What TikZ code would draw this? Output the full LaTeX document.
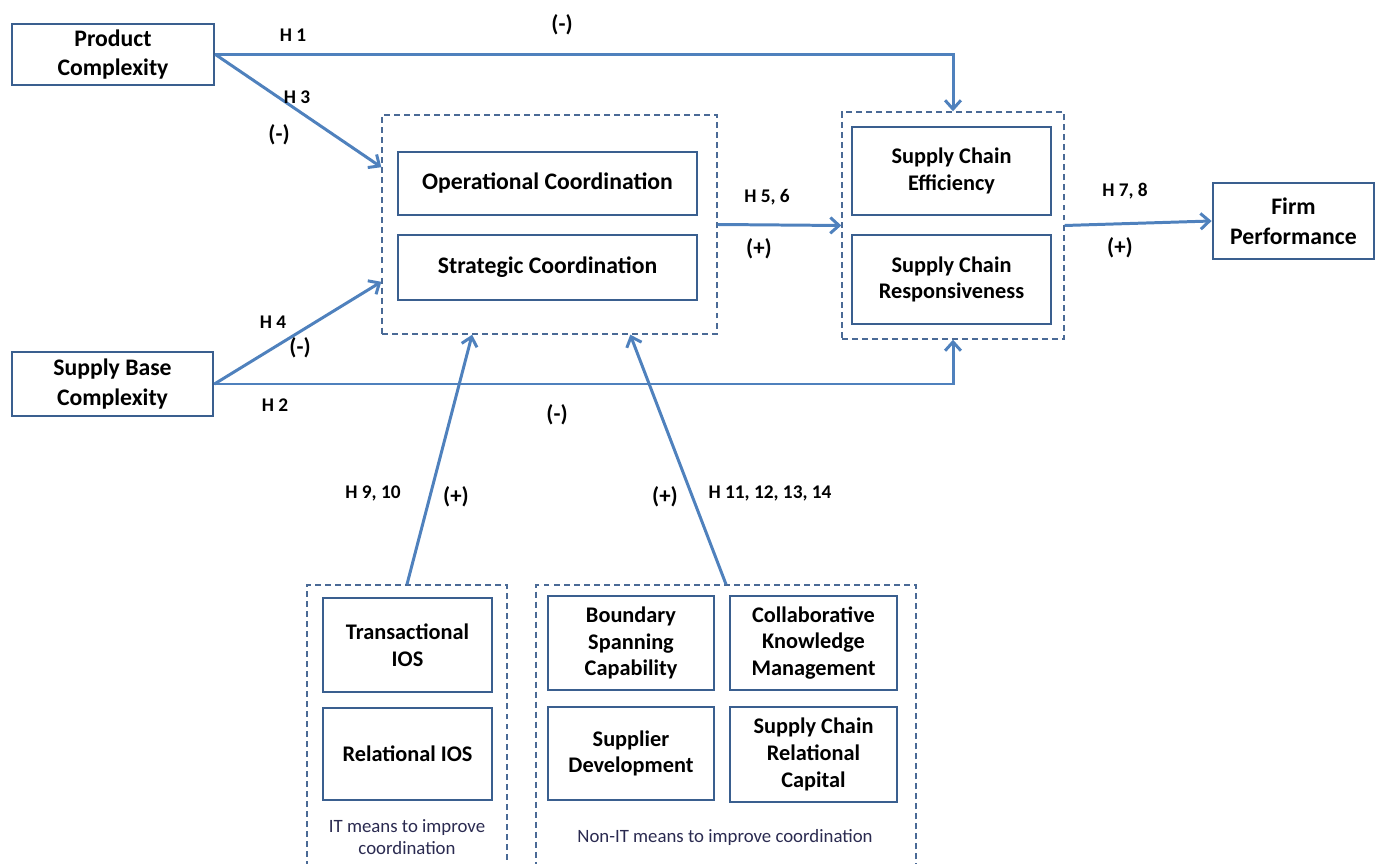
\documentclass[tikz,border=0pt]{standalone}
\usepackage{fontspec}
\setmainfont{Carlito}
\usetikzlibrary{arrows.meta,calc}
\definecolor{conncol}{HTML}{4F81BD}
\definecolor{boxcol}{HTML}{3A5F8F}
\definecolor{grpcol}{HTML}{4A6A96}
\definecolor{captcol}{HTML}{2A2A50}
\begin{document}
\begin{tikzpicture}[x=0.02cm,y=-0.02cm,
 sz/.style 2 args={minimum width=#1*0.02cm,minimum height=#2*0.02cm},
 mainbox/.style={draw=boxcol,line width=1.6pt,inner sep=0pt,align=center,font=\bfseries\fontsize{13.5}{17}\selectfont},
 smallbox/.style={mainbox,font=\bfseries\fontsize{12.7}{15.2}\selectfont},
 grpbox/.style={draw=grpcol,line width=0.8pt,dash pattern=on 3.4pt off 2.3pt,inner sep=0pt},
 conn/.style={draw=conncol,line width=1.7pt,-{Straight Barb[length=5pt,width=9pt,line width=1.7pt]}},
 hlbl/.style={inner sep=0pt,font=\bfseries\fontsize{11}{13}\selectfont},
 sgn/.style={inner sep=0pt,font=\bfseries\fontsize{13}{15}\selectfont},
 capt/.style={inner sep=0pt,font=\fontsize{10.7}{12.5}\selectfont,text=captcol,align=center}]

\useasboundingbox (0,0) rectangle (1376,864);

% group boxes
\node[grpbox,sz={335}{219}] (cgrp) at (549.5,224.5) {};
\node[grpbox,sz={222}{227}] (scgrp) at (953,225.5) {};
\node[grpbox,sz={200}{295}] (itgrp) at (407,732.5) {};
\node[grpbox,sz={380}{295}] (ngrp) at (726,732.5) {};

% main boxes
\node[mainbox,sz={202}{61}] (pc) at (113,54.5) {Product\\Complexity};
\node[mainbox,sz={201}{64}] (sbc) at (112.5,384) {Supply Base\\Complexity};
\node[mainbox,sz={299}{63}] (oc) at (547.5,183.5) {Operational Coordination};
\node[mainbox,sz={299}{65}] (sc) at (547.5,267.5) {Strategic Coordination};
\node[smallbox,sz={199}{88}] (sce) at (951.5,171) {Supply Chain\\Efficiency};
\node[smallbox,sz={199}{89}] (scr) at (951.5,279.5) {Supply Chain\\Responsiveness};
\node[mainbox,sz={161}{76}] (fp) at (1293.5,221) {Firm\\Performance};
\node[smallbox,sz={169}{94}] (tios) at (407.5,645) {Transactional\\IOS};
\node[smallbox,sz={169}{92}] (rios) at (407.5,754) {Relational IOS};
\node[smallbox,sz={166}{94}] (bsc) at (631,643) {Boundary\\Spanning\\Capability};
\node[smallbox,sz={167}{94}] (ckm) at (813.5,643) {Collaborative\\Knowledge\\Management};
\node[smallbox,sz={166}{93}] (sd) at (631,753.5) {Supplier\\Development};
\node[smallbox,sz={167}{95}] (scrc) at (813.5,754.5) {Supply Chain\\Relational\\Capital};

% captions
\node[capt] (itcap) at (407,837) {IT means to improve\\coordination};
\node[capt] (ncap) at (725,837) {Non-IT means to improve coordination};

% connectors
\draw[conn] (pc.east) -| (scgrp.north);
\draw[conn] (pc.east) -- ($(cgrp.north west)!0.24!(cgrp.south west)$);
\draw[conn] (sbc.east) -- ($(cgrp.north west)!0.76!(cgrp.south west)$);
\draw[conn] (sbc.east) -| (scgrp.south);
\draw[conn] (cgrp.east) -- (scgrp.west);
\draw[conn] (scgrp.east) -- (fp.west);
\draw[conn] (itgrp.north) -- ($(cgrp.south west)!0.27!(cgrp.south east)$);
\draw[conn] (ngrp.north) -- ($(cgrp.south west)!0.74!(cgrp.south east)$);

% labels
\node[hlbl] (h1) at (293,35) {H 1};
\node[sgn] (s1) at (562,25) {(-)};
\node[hlbl] (h3) at (297,97) {H 3};
\node[sgn] (s3) at (279,135) {(-)};
\node[hlbl] (h4) at (273,322) {H 4};
\node[sgn] (s4) at (300,348) {(-)};
\node[hlbl] (h2) at (275,405) {H 2};
\node[sgn] (s2) at (557,415) {(-)};
\node[hlbl] (h56) at (767,197) {H 5, 6};
\node[sgn] (s56) at (759,249) {(+)};
\node[hlbl] (h78) at (1125,191) {H 7, 8};
\node[sgn] (s78) at (1120,248) {(+)};
\node[hlbl] (h910) at (373,493) {H 9, 10};
\node[sgn] (s910) at (456,497) {(+)};
\node[sgn] (s1114) at (665,497) {(+)};
\node[hlbl] (h1114) at (770,493) {H 11, 12, 13, 14};
\end{tikzpicture}
\end{document}
